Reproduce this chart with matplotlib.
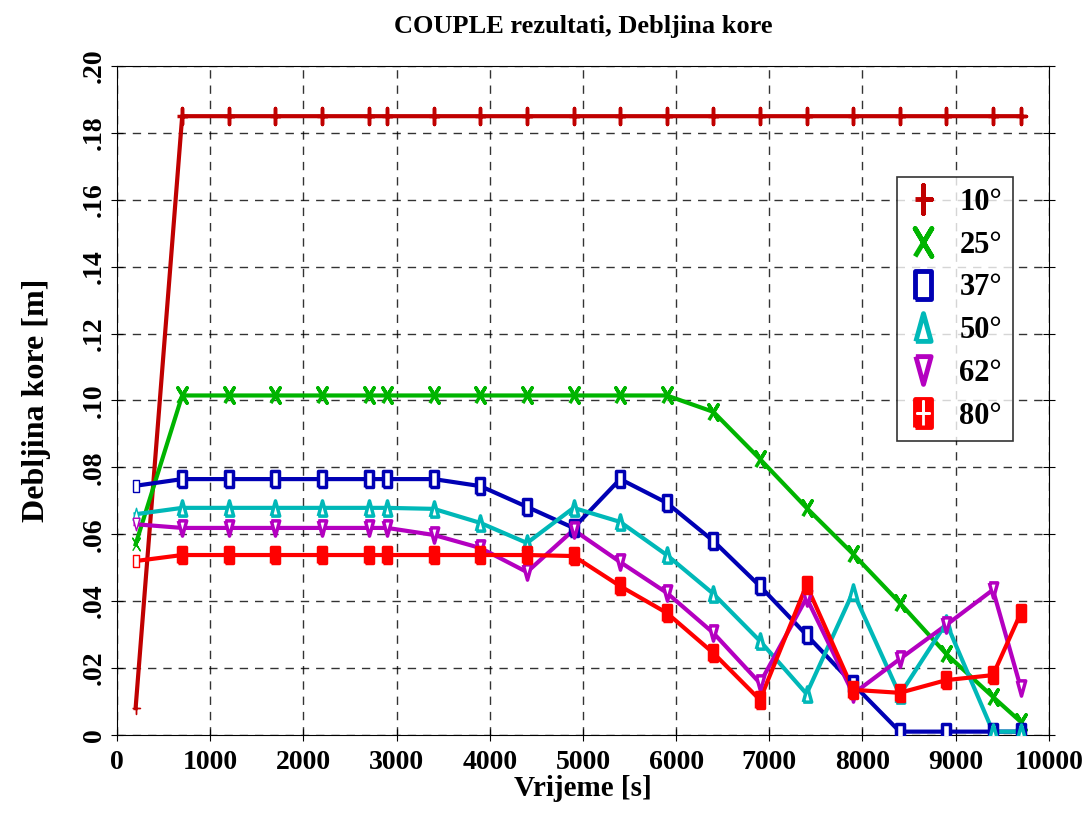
import numpy as np
import matplotlib.pyplot as plt
from matplotlib.lines import Line2D
from matplotlib.ticker import FuncFormatter

plt.rcParams['font.family'] = ['Liberation Serif', 'DejaVu Serif']
plt.rcParams['font.weight'] = 'bold'

time_s = [200, 700, 1200, 1700, 2200, 2700, 2900, 3400, 3900, 4400, 4900,
          5400, 5900, 6400, 6900, 7400, 7900, 8400, 8900, 9400, 9700]

labels = ['10°', '25°', '37°', '50°', '62°', '80°']

d10 = [0.008, 0.185, 0.185, 0.185, 0.185, 0.185, 0.185, 0.185, 0.185, 0.185, 0.185,
       0.185, 0.185, 0.185, 0.185, 0.185, 0.185, 0.185, 0.185, 0.185, 0.185]
d25 = [0.057, 0.1015, 0.1015, 0.1015, 0.1015, 0.1015, 0.1015, 0.1015, 0.1015, 0.1015, 0.1015,
       0.1015, 0.1015, 0.0966, 0.0825, 0.0679, 0.0541, 0.0395, 0.0242, 0.0114, 0.0039]
d37 = [0.0745, 0.0765, 0.0765, 0.0765, 0.0765, 0.0765, 0.0765, 0.0765, 0.0744, 0.0682, 0.0619,
       0.0765, 0.0694, 0.058, 0.0445, 0.0299, 0.0152, 0.001, 0.001, 0.001, 0.001]
d50 = [0.066, 0.0679, 0.0679, 0.0679, 0.0679, 0.0679, 0.0679, 0.0676, 0.0634, 0.0574, 0.0679,
       0.0637, 0.0538, 0.0422, 0.0281, 0.0123, 0.0428, 0.012, 0.0335, 0.001, 0.001]
d62 = [0.063, 0.0619, 0.0619, 0.0619, 0.0619, 0.0619, 0.0619, 0.0598, 0.0559, 0.0487, 0.0613,
       0.0517, 0.0425, 0.0305, 0.0155, 0.041, 0.0123, 0.0227, 0.0329, 0.0434, 0.014]
d80 = [0.052, 0.0538, 0.0538, 0.0538, 0.0538, 0.0538, 0.0538, 0.0538, 0.0538, 0.0538, 0.0535,
       0.0445, 0.0365, 0.0245, 0.0105, 0.0448, 0.0135, 0.0126, 0.0164, 0.0179, 0.0365]

series = [d10, d25, d37, d50, d62, d80]
colors = ['#c00000', '#00b400', '#0000b4', '#00b8b8', '#b400c0', '#ff0000']

# tall, narrow marker shapes like the original plotting program
m_plus = [(-0.6, 0), (0.6, 0), (0, 0), (0, 1), (0, -1), (0, 0)]
m_x = [(-0.6, -1), (0.6, 1), (0, 0), (-0.6, 1), (0.6, -1), (0, 0)]
m_rect = [(-0.55, -1), (0.55, -1), (0.55, 1), (-0.55, 1), (-0.55, -1)]
m_up = [(-0.55, -1), (0.55, -1), (0, 1), (-0.55, -1)]
m_dn = [(-0.55, 1), (0.55, 1), (0, -1), (-0.55, 1)]
# white inner lines of the "grid box" marker of 80° (legend only)
m_grid = [(0, -0.75), (0, 0.75), (0, 0), (-0.4, 0), (0.4, 0), (0, 0)]
markers = [m_plus, m_x, m_rect, m_up, m_dn, m_rect]
filled = [True, True, False, False, False, True]

fig = plt.figure(figsize=(10.88, 8.16), dpi=100)
ax = fig.add_axes([0.1075, 0.0993, 0.8565, 0.8198])

for y, c, m, f in zip(series, colors, markers, filled):
    t = np.array(time_s)
    y = np.array(y)
    ax.plot(t, y, color=c, lw=3, zorder=3)
    fc = c if f else 'white'
    ax.plot(t[1:], y[1:], ls='none', marker=m, ms=11, mew=2.5, mec=c, mfc=fc, zorder=4)
    ax.plot(t[:1], y[:1], ls='none', marker=m, ms=9, mew=1, mec=c, mfc='white', zorder=4)

ax.set_xlim(0, 10000)
ax.set_ylim(0, 0.2)
ax.set_xticks(np.arange(0, 10001, 1000))
ax.set_yticks(np.arange(0, 0.2001, 0.02))
ax.yaxis.set_major_formatter(FuncFormatter(lambda v, p: '0' if abs(v) < 1e-9 else ('%.2f' % v)[1:]))
for lab in ax.get_yticklabels():
    lab.set_rotation(90)
    lab.set_va('center')
ax.tick_params(axis='both', direction='inout', length=8, labelsize=20, top=False, right=True)
ax.tick_params(axis='x', pad=7)
ax.grid(True, color='black', ls=(0, (6, 5)), lw=1, alpha=0.8)

ax.set_title('COUPLE rezultati, Debljina kore', fontsize=19, fontweight='bold', pad=24)
ax.set_xlabel('Vrijeme [s]', fontsize=21, fontweight='bold', labelpad=0)
ax.set_ylabel('Debljina kore [m]', fontsize=23, fontweight='bold', labelpad=22)

handles = [Line2D([], [], ls='none', marker=m, ms=20, mew=3.5, mec=c, mfc=(c if f else 'white'))
           for c, m, f in zip(colors, markers, filled)]
handles[5] = (handles[5], Line2D([], [], ls='none', marker=m_grid, ms=17, mew=2, mec='white'))
leg = ax.legend(handles, labels, loc='upper right', bbox_to_anchor=(0.9614, 0.834),
                borderaxespad=0, fontsize=22, frameon=True, fancybox=False, edgecolor='black',
                borderpad=0.35, labelspacing=0.45, handlelength=1.0, handletextpad=0.7)
leg.get_frame().set_linewidth(1.2)

fig.savefig('out.png', dpi=100)
